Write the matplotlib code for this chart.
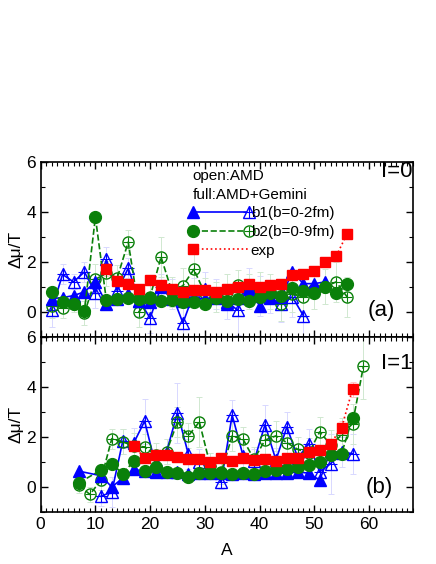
import matplotlib
matplotlib.use("Agg")
import matplotlib.pyplot as plt
from matplotlib.lines import Line2D
from matplotlib.legend_handler import HandlerBase
from matplotlib.ticker import MultipleLocator

plt.rcParams['font.family'] = ['Liberation Sans', 'DejaVu Sans']

# ---- panel (a), I=0 ----
a_b1f_top = list(range(2, 53, 2))
b1f_top = [0.53, 0.57, 0.65, 0.8, 1.2, 0.33, 0.5, 0.73, 0.45, 0.4, 1.05, 0.53, 0.45,
           0.6, 0.5, 0.55, 0.3, 0.55, 0.93, 0.25, 0.6, 0.6, 1.6, 1.13, 1.13, 1.2]
a_b1o_top = list(range(2, 49, 2))
b1o_top = [0.07, 1.5, 1.2, 1.6, 0.75, 2.1, 0.85, 1.75, 0.45, -0.25, 1.0, 0.7, -0.45,
           0.75, 0.9, 0.7, 0.4, 0.07, 1.07, 0.65, 0.55, 0.3, 0.6, -0.15]
b1o_err_top = [0.7, 0.4, 0.3, 0.4, 0.6, 0.5, 0.5, 0.4, 0.6, 0.6, 0.5, 0.6, 0.7, 0.6,
               0.7, 0.6, 0.7, 1.0, 0.7, 0.8, 0.6, 0.7, 0.8, 0.9]
a_b2_top = list(range(2, 57, 2))
b2f_top = [0.8, 0.4, 0.3, 0.05, 3.8, 0.47, 0.5, 0.57, 0.5, 0.55, 0.45, 0.47, 0.4, 0.4,
           0.33, 0.57, 0.43, 0.53, 0.45, 0.6, 0.75, 0.63, 0.95, 0.85, 0.75, 1.0, 0.75, 1.1]
b2o_top = [0.25, 0.17, 0.3, -0.05, 1.3, 1.55, 1.37, 2.8, 0.0, 0.6, 2.2, 0.8, 1.05, 1.7,
           0.75, 0.6, 0.8, 1.07, 0.8, 0.8, 0.8, 0.33, 0.7, 0.6, 0.9, 1.0, 1.2, 0.6]
b2o_err_top = [0.5, 0.4, 0.3, 0.5, 0.6, 0.5, 0.5, 0.5, 0.6, 0.6, 0.8, 0.6, 0.7, 0.9,
               0.6, 0.6, 0.7, 0.6, 0.7, 0.8, 0.7, 0.7, 0.7, 0.8, 0.8, 0.7, 0.8, 0.8]
a_exp_top = list(range(12, 57, 2))
exp_top = [1.7, 1.25, 1.13, 0.9, 1.27, 1.07, 0.9, 0.8, 0.87, 0.87, 0.8, 0.9, 1.0, 1.1,
           1.0, 1.07, 1.13, 1.47, 1.5, 1.64, 2.0, 2.23, 3.13]
exp_err_top = [0.25, 0.2, 0.2, 0.15, 0.2, 0.15, 0.15, 0.15, 0.15, 0.15, 0.15, 0.15, 0.15,
               0.15, 0.15, 0.15, 0.15, 0.15, 0.15, 0.15, 0.2, 0.2, 0.2]

# ---- panel (b), I=1 ----
a_b1f_bot = [7] + list(range(11, 56, 2))
b1f_bot = [0.63, 0.45, 0.0, 0.35, 0.7, 0.63, 0.6, 0.6, 0.6, 0.5, 0.55, 0.55, 0.55, 0.5,
           0.55, 0.5, 0.55, 0.55, 0.55, 0.6, 0.55, 0.27, 1.45, 1.35]
a_b1o_bot = list(range(11, 58, 2))
b1o_bot = [-0.37, -0.2, 1.83, 1.75, 2.63, 0.87, 1.4, 2.97, 1.3, 1.0, 0.85, 0.2, 2.87,
           1.24, 1.03, 2.49, 1.07, 2.4, 1.16, 1.73, 0.6, 0.93, 1.4, 1.33]
b1o_err_bot = [0.4, 0.6, 0.5, 0.6, 0.9, 0.5, 0.5, 1.2, 0.6, 0.5, 0.5, 0.3, 0.6, 0.5,
               0.5, 0.8, 0.5, 0.6, 0.4, 0.6, 0.5, 1.2, 0.6, 0.8]
a_b2f_bot = [7] + list(range(11, 58, 2))
b2f_bot = [0.17, 0.67, 0.93, 0.53, 1.03, 0.63, 0.8, 0.6, 0.57, 0.4, 0.57, 0.57, 0.57,
           0.5, 0.57, 0.5, 0.63, 0.67, 0.73, 0.8, 0.87, 1.0, 1.27, 1.33, 2.76]
a_b2o_bot = list(range(7, 60, 2))
b2o_bot = [0.07, -0.3, 0.27, 1.93, 1.8, 1.64, 1.6, 1.27, 1.4, 2.6, 2.04, 2.6, 0.85, 0.6,
           2.04, 1.9, 1.1, 1.87, 2.04, 1.77, 1.5, 1.35, 2.2, 1.69, 2.07, 2.53, 4.83]
b2o_err_bot = [0.3, 0.3, 0.4, 0.4, 0.5, 0.5, 0.5, 0.5, 0.5, 0.6, 0.5, 1.0, 0.5, 0.5,
               0.6, 0.5, 0.5, 0.6, 0.6, 0.6, 0.5, 0.6, 0.6, 0.6, 0.7, 0.8, 1.3]
a_exp_bot = list(range(17, 58, 2))
exp_bot = [1.64, 1.16, 1.27, 1.27, 1.2, 1.1, 1.13, 1.0, 1.17, 1.04, 1.17, 1.09, 1.13,
           1.04, 1.17, 1.17, 1.4, 1.49, 1.73, 2.37, 3.9]
exp_err_bot = [0.15] * 17 + [0.15, 0.2, 0.25, 0.3]

BLUE = '#0000ff'
GREEN = '#0a800a'
RED = '#ff0000'


class PairHandler(HandlerBase):
    # filled marker on the left, open marker with a cross on the right
    def create_artists(self, legend, orig, xd, yd, w, h, fontsize, trans):
        full, hollow = orig
        y = h / 2 - yd
        x0, x1 = -xd, w - xd
        arts = [Line2D([x0, x1], [y, y], color=full.get_color(),
                       linestyle=full.get_linestyle(), linewidth=full.get_linewidth()),
                Line2D([x0], [y], marker=full.get_marker(), ms=full.get_markersize(),
                       color=full.get_color(), linestyle='none')]
        if hollow is not None:
            c = hollow.get_markeredgecolor()
            arts.append(Line2D([x1], [y], marker=hollow.get_marker(), ms=hollow.get_markersize(),
                               mfc='white', mec=c, mew=1, linestyle='none'))
            arts.append(Line2D([x1], [y], marker='+', ms=hollow.get_markersize() * 0.95,
                               mec=c, mew=0.8, linestyle='none'))
        for a in arts:
            a.set_transform(trans)
        return arts


def draw_open(ax, x, y, err, marker, color, ls, ms, ecol):
    ax.errorbar(x, y, yerr=err, fmt='none', ecolor=ecol, elinewidth=0.7, capsize=2,
                capthick=0.7, zorder=1)
    ln, = ax.plot(x, y, marker=marker, mfc='none', mec=color, mew=1, ms=ms,
                  color=color, ls=ls, lw=1.2, zorder=3)
    ax.plot(x, y, marker='+', ms=ms * 0.95, mec=color, mew=0.8, ls='none', zorder=3)
    return ln


def draw_panel(ax, d):
    ax.errorbar(d['ae'], d['exp'], yerr=d['exp_err'], fmt='none', ecolor='#ffc8c8',
                elinewidth=0.7, capsize=2, capthick=0.7, zorder=1)
    b1o = draw_open(ax, d['a1o'], d['b1o'], d['b1o_err'], '^', BLUE, '-', 9, '#d8d8ff')
    b2o = draw_open(ax, d['a2o'], d['b2o'], d['b2o_err'], 'o', GREEN, '--', 8, '#d0e8d0')
    b1f, = ax.plot(d['a1f'], d['b1f'], marker='^', ms=9, color=BLUE, ls='-', lw=1.2, zorder=4)
    b2f, = ax.plot(d['a2f'], d['b2f'], marker='o', ms=8.5, color=GREEN, ls='--', lw=1.2, zorder=4)
    ex, = ax.plot(d['ae'], d['exp'], marker='s', ms=7.5, color=RED, ls=':', lw=1.2, zorder=5)

    ax.set_xlim(0, 68)
    ax.set_ylim(-1, 6)
    ax.xaxis.set_major_locator(MultipleLocator(10))
    ax.xaxis.set_minor_locator(MultipleLocator(1))
    ax.yaxis.set_major_locator(MultipleLocator(2))
    ax.yaxis.set_minor_locator(MultipleLocator(1))
    ax.tick_params(which='both', direction='in', top=True, right=True, labelsize=12.5)
    ax.tick_params(which='major', length=5, width=1)
    ax.tick_params(which='minor', length=3, width=0.8)
    for s in ax.spines.values():
        s.set_linewidth(1.2)
    ax.set_ylabel('Δμ/T', fontsize=12.5, labelpad=2)
    return b1f, b1o, b2f, b2o, ex


fig = plt.figure(figsize=(4.36, 5.64), dpi=100)
ax1 = fig.add_axes([0.0933, 0.403, 0.8533, 0.3092])
ax2 = fig.add_axes([0.0933, 0.0922, 0.8533, 0.3108])

top = dict(a1f=a_b1f_top, b1f=b1f_top, a1o=a_b1o_top, b1o=b1o_top, b1o_err=b1o_err_top,
           a2f=a_b2_top, b2f=b2f_top, a2o=a_b2_top, b2o=b2o_top, b2o_err=b2o_err_top,
           ae=a_exp_top, exp=exp_top, exp_err=exp_err_top)
bot = dict(a1f=a_b1f_bot, b1f=b1f_bot, a1o=a_b1o_bot, b1o=b1o_bot, b1o_err=b1o_err_bot,
           a2f=a_b2f_bot, b2f=b2f_bot, a2o=a_b2o_bot, b2o=b2o_bot, b2o_err=b2o_err_bot,
           ae=a_exp_bot, exp=exp_bot, exp_err=exp_err_bot)

h = draw_panel(ax1, top)
draw_panel(ax2, bot)
ax1.tick_params(labelbottom=False)
ax1.set_yticks([0, 2, 4, 6])
ax2.set_yticks([0, 2, 4, 6])
ax2.set_xlabel('A', fontsize=12.5, labelpad=8)

leg = ax1.legend([(h[0], h[1]), (h[2], h[3]), (h[4], None)],
                 ['b1(b=0-2fm)', 'b2(b=0-9fm)', 'exp'],
                 handler_map={tuple: PairHandler()},
                 title='open:AMD\nfull:AMD+Gemini', alignment='left',
                 loc='upper left', bbox_to_anchor=(0.40, 0.98), frameon=False,
                 fontsize=11, title_fontsize=11, handlelength=3.7, handletextpad=0.1,
                 labelspacing=0.3, borderpad=0.2, borderaxespad=0)
leg.get_title().set_linespacing(1.45)
leg.set_zorder(10)

ax1.text(1.0, 0.945, 'I=0', transform=ax1.transAxes, ha='right', va='center', fontsize=16)
ax1.text(0.915, 0.15, '(a)', transform=ax1.transAxes, ha='center', va='center', fontsize=16)
ax2.text(1.0, 0.845, 'I=1', transform=ax2.transAxes, ha='right', va='center', fontsize=16)
ax2.text(0.91, 0.14, '(b)', transform=ax2.transAxes, ha='center', va='center', fontsize=16)

fig.savefig('out.png', dpi=100)
